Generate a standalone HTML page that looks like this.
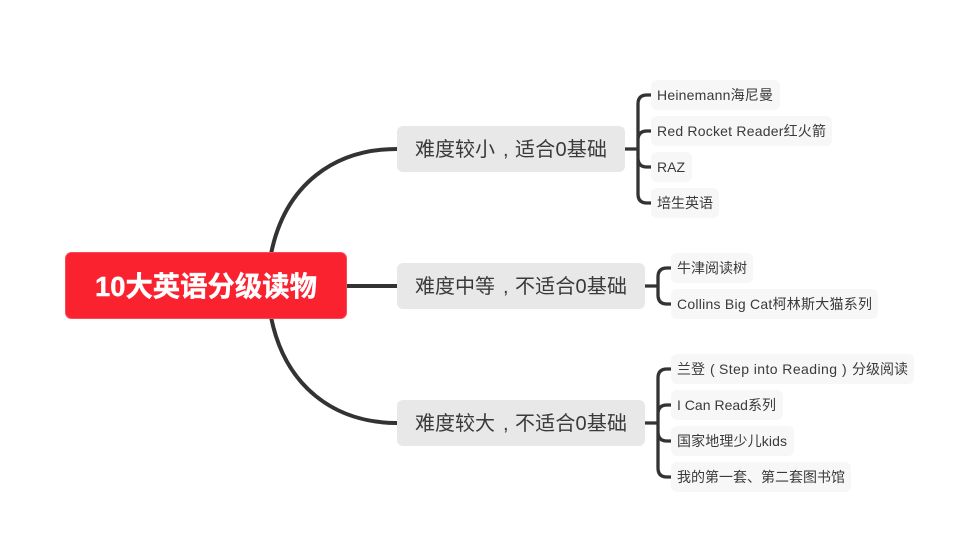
<!DOCTYPE html>
<html><head><meta charset="utf-8"><style>
html,body{margin:0;padding:0;background:#fff}
svg{display:block}
text{font-family:"Liberation Sans","Noto Sans CJK SC",sans-serif;dominant-baseline:auto}
.l{font-size:14px;fill:#3a3a3a}
.b{font-size:20px;fill:#3a3a3a}
</style></head><body>
<svg width="961" height="548" viewBox="0 0 961 548" xmlns="http://www.w3.org/2000/svg">
<g fill="none" stroke="#333" stroke-width="4">
<path d="M271 254C285 184 335 149 397 149"/>
<path d="M271 317C285 387 335 423 397 423"/>
<path d="M347 286H397"/>
<g stroke-width="3.3">
<path d="M625 149H638M651 95H647Q638 95 638 104V194Q638 203 647 203H651M638 140Q638 131 647 131H651M638 158Q638 167 647 167H651"/>
<path d="M645 286H658M671 268H667Q658 268 658 277V295Q658 304 667 304H671"/>
<path d="M645 423H658M671 369H667Q658 369 658 378V468Q658 477 667 477H671M658 414Q658 405 667 405H671M658 432Q658 441 667 441H671"/>
</g>
</g>
<rect x="65.5" y="252.5" width="281" height="66" rx="6" fill="#fb2230" stroke="#fb4a55"/>
<text x="95" y="296" font-size="28" font-weight="700" fill="#fff" stroke="#fff" stroke-width="0.4" textLength="222" lengthAdjust="spacingAndGlyphs">10大英语分级读物</text>
<g fill="#e8e8e8">
<rect x="397" y="126" width="228" height="46" rx="6"/>
<rect x="397" y="263" width="248" height="46" rx="6"/>
<rect x="397" y="400" width="248" height="46" rx="6"/>
</g>
<text class="b" x="415" y="156" textLength="80" lengthAdjust="spacing">难度较小</text>
<text class="b" x="503" y="156">,</text>
<text class="b" x="515" y="156" textLength="92" lengthAdjust="spacing">适合0基础</text>
<text class="b" x="415" y="293" textLength="80" lengthAdjust="spacing">难度中等</text>
<text class="b" x="503" y="293">,</text>
<text class="b" x="515" y="293" textLength="112" lengthAdjust="spacing">不适合0基础</text>
<text class="b" x="415" y="430" textLength="80" lengthAdjust="spacing">难度较大</text>
<text class="b" x="503" y="430">,</text>
<text class="b" x="515" y="430" textLength="112" lengthAdjust="spacing">不适合0基础</text>
<g fill="#f7f7f7">
<rect x="651" y="80" width="129" height="30" rx="6"/>
<rect x="651" y="116" width="181" height="30" rx="6"/>
<rect x="651" y="152" width="41" height="30" rx="6"/>
<rect x="651" y="188" width="68" height="30" rx="6"/>
<rect x="671" y="253" width="82" height="30" rx="6"/>
<rect x="671" y="289" width="207" height="30" rx="6"/>
<rect x="671" y="354" width="243" height="30" rx="6"/>
<rect x="671" y="390" width="112" height="30" rx="6"/>
<rect x="671" y="426" width="123" height="30" rx="6"/>
<rect x="671" y="462" width="180" height="30" rx="6"/>
</g>
<text class="l" x="657" y="100" textLength="116" lengthAdjust="spacing">Heinemann海尼曼</text>
<text class="l" x="657" y="136" textLength="169" lengthAdjust="spacing">Red Rocket Reader红火箭</text>
<text class="l" x="657" y="172" textLength="28" lengthAdjust="spacing">RAZ</text>
<text class="l" x="657" y="208" textLength="56" lengthAdjust="spacing">培生英语</text>
<text class="l" x="677" y="273" textLength="70" lengthAdjust="spacing">牛津阅读树</text>
<text class="l" x="677" y="309" textLength="195" lengthAdjust="spacing">Collins Big Cat柯林斯大猫系列</text>
<text class="l" x="677" y="374" textLength="28" lengthAdjust="spacing">兰登</text>
<text class="l" x="710" y="374">(</text>
<text class="l" x="719" y="374" textLength="118" lengthAdjust="spacing">Step into Reading</text>
<text class="l" x="842" y="374">)</text>
<text class="l" x="852" y="374" textLength="56" lengthAdjust="spacing">分级阅读</text>
<text class="l" x="677" y="410" textLength="99" lengthAdjust="spacing">I Can Read系列</text>
<text class="l" x="677" y="446" textLength="110" lengthAdjust="spacing">国家地理少儿kids</text>
<text class="l" x="677" y="482" textLength="168" lengthAdjust="spacing">我的第一套、第二套图书馆</text>
</svg>
</body></html>
